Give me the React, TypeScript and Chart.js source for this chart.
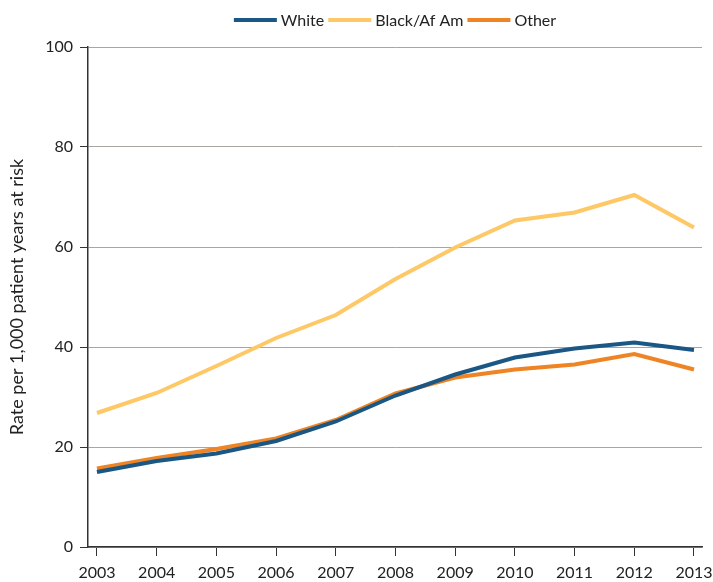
import React, { useEffect, useRef } from "react";
import { Chart, registerables } from "chart.js";

Chart.register(...registerables);

const years = [2003, 2004, 2005, 2006, 2007, 2008, 2009, 2010, 2011, 2012, 2013];
const white = [15.0, 17.2, 18.7, 21.2, 25.1, 30.3, 34.5, 37.9, 39.7, 40.9, 39.4];
const black = [26.8, 30.8, 36.2, 41.8, 46.4, 53.6, 59.9, 65.3, 66.9, 70.4, 63.9];
const other = [15.7, 17.8, 19.6, 21.7, 25.4, 30.7, 33.9, 35.5, 36.5, 38.6, 35.5];
const yTicks = [0, 20, 40, 60, 80, 100];

const FONT = "Lato, 'Open Sans', sans-serif";

const legendPlugin = {
  id: "customLegend",
  afterDraw(chart: any) {
    const ctx = chart.ctx;
    const area = chart.chartArea;
    ctx.save();
    ctx.font = `16px ${FONT}`;
    const boxW = 43;
    const gapText = 4;
    const gapItem = 4;
    const items = chart.data.datasets.map((d: any) => ({
      label: d.label,
      color: d.borderColor,
      w: ctx.measureText(d.label).width,
    }));
    let total = 0;
    items.forEach((it: any, i: number) => {
      total += boxW + gapText + it.w + (i < items.length - 1 ? gapItem : 0);
    });
    let x = (area.left + area.right) / 2 - total / 2;
    const y = 20;
    ctx.textBaseline = "middle";
    ctx.textAlign = "left";
    items.forEach((it: any) => {
      ctx.fillStyle = it.color;
      ctx.fillRect(x, y - 2, boxW, 4);
      x += boxW + gapText;
      ctx.fillStyle = "#222";
      ctx.fillText(it.label, x, y + 1);
      x += it.w + gapItem;
    });
    ctx.restore();
  },
};

export default function App() {
  const ref = useRef<HTMLCanvasElement | null>(null);
  useEffect(() => {
    document.body.style.margin = "0";
    const mk = (label: string, vals: number[], color: string) => ({
      label,
      data: years.map((y, i) => ({ x: y, y: vals[i] })),
      borderColor: color,
      backgroundColor: color,
      borderWidth: 4,
      pointRadius: 0,
      tension: 0,
      fill: false,
    });
    const chart = new Chart(ref.current!, {
      type: "line",
      data: {
        datasets: [
          mk("White", white, "#1a5785"),
          mk("Black/Af Am", black, "#fec866"),
          mk("Other", other, "#ee8424"),
        ],
      },
      plugins: [legendPlugin],
      options: {
        animation: false,
        responsive: false,
        layout: { padding: { top: 47, right: 11, left: 0, bottom: 0 } },
        plugins: {
          tooltip: { enabled: false },
          legend: { display: false },
        },
        scales: {
          x: {
            type: "linear",
            min: 2002.85,
            max: 2013.134,
            afterBuildTicks: (s: any) => {
              s.ticks = years.map((v) => ({ value: v }));
            },
            ticks: {
              color: "#222",
              font: { family: FONT, size: 16 },
              padding: 7,
              autoSkip: false,
              maxRotation: 0,
              callback: (v: any) => String(v),
            },
            grid: {
              drawOnChartArea: false,
              drawTicks: true,
              tickLength: 9,
              tickColor: "#333",
            },
            border: { color: "#333", width: 1.5 },
            afterFit: (s: any) => {
              s.height = 35;
              s.paddingRight = 0;
              s.paddingLeft = 0;
            },
          },
          y: {
            min: 0,
            max: 100,
            afterBuildTicks: (s: any) => {
              s.ticks = yTicks.map((v) => ({ value: v }));
            },
            ticks: {
              color: "#222",
              font: { family: FONT, size: 16 },
              padding: 7,
            },
            grid: {
              color: "#aaa5a0",
              lineWidth: 1,
              tickLength: 8,
              tickColor: "#333",
            },
            border: { color: "#333", width: 1.5 },
            title: {
              display: true,
              text: "Rate per 1,000 patient years at risk",
              color: "#222",
              font: { family: FONT, size: 18 },
              padding: { top: 6, bottom: 6 },
            },
            afterFit: (s: any) => {
              s.width = 88;
              s.paddingTop = 0;
              s.paddingBottom = 0;
            },
          },
        },
      },
    } as any);
    return () => chart.destroy();
  }, []);
  return <canvas ref={ref} width={713} height={582} style={{ display: "block" }} />;
}
